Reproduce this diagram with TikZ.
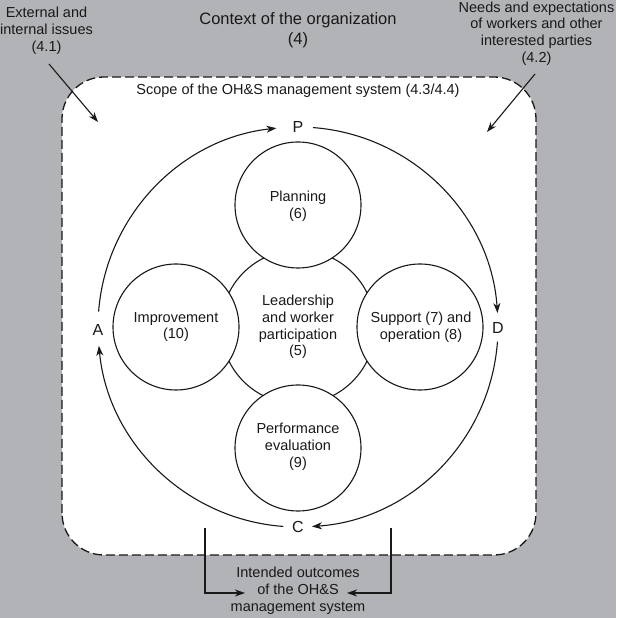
\documentclass[tikz,border=0pt]{standalone}
\usepackage{fontspec}
\setmainfont{Liberation Sans}
\usetikzlibrary{arrows.meta}
\definecolor{bggrey}{RGB}{178,179,182}
\definecolor{ink}{RGB}{25,25,25}
\tikzset{
  txt/.style={align=center, text=ink, font=\fontsize{14.5}{16.8}\selectfont, inner sep=0pt},
  ttl/.style={align=center, text=ink, font=\fontsize{16.5}{20}\selectfont, inner sep=0pt},
  letter/.style={text=ink, font=\fontsize{16}{18}\selectfont, inner sep=1pt},
  circ/.style={draw=ink, line width=1.1pt, fill=white, circle, inner sep=0pt},
  cyc/.style={draw=ink, line width=1.1pt},
  tip/.style={-{Stealth[length=10pt,width=7pt,inset=3pt]}},
  scope box/.style={draw=ink, line width=1.3pt, dash pattern=on 9pt off 4pt, fill=white, rounded corners=42pt},
}
\begin{document}
\begin{tikzpicture}[x=1pt,y=1pt]
\useasboundingbox (0,0) rectangle (616,618);
\fill[bggrey] (0,0) rectangle (616,618);
% scope box
\draw[scope box] (62,63) rectangle (536,541);
% texts outside
\node[ttl] (ctx) at (298,588) {Context of the organization\\(4)};
\node[txt] (ext) at (46.5,587) {External and\\internal issues\\(4.1)};
\node[txt] (needs) at (536.5,584.5) {Needs and expectations\\of workers and other\\interested parties\\(4.2)};
\node[txt] (scope) at (298,527) {Scope of the OH\&S management system (4.3/4.4)};
\node[txt] (out) at (298,27) {Intended outcomes\\of the OH\&S\\management system};
% input arrows
\coordinate (e1) at (49,554);
\coordinate (e2) at (98,496);
\coordinate (n1) at (535,544);
\coordinate (n2) at (487,486);
\draw[cyc,tip] (e1) -- (e2);
\draw[cyc,tip] (n1) -- (n2);
% cycle
\coordinate (o) at (298,291);
\node[letter] (P) at (298,491) {P};
\node[letter] (D) at (498,290) {D};
\node[letter] (C) at (298,91) {C};
\node[letter] (A) at (98,288) {A};
\draw[cyc,tip] ([shift={(85.7:200)}]o) arc[start angle=85.7, end angle=4.0, radius=200];
\draw[cyc,tip] ([shift={(-4.2:200)}]o) arc[start angle=-4.2, end angle=-86.0, radius=200];
\draw[cyc,tip] ([shift={(-94.2:200)}]o) arc[start angle=-94.2, end angle=-174.6, radius=200];
\draw[cyc,tip] ([shift={(175.6:200)}]o) arc[start angle=175.6, end angle=96.2, radius=200];
% circles
\node[circ, minimum size=154pt] (lead) at (298,291) {};
\node[circ, minimum size=126pt] (plan) at (298,413) {};
\node[circ, minimum size=126pt] (impr) at (176,291) {};
\node[circ, minimum size=126pt] (supp) at (420,291) {};
\node[circ, minimum size=126pt] (perf) at (298,170) {};
\node[txt] at (lead) {Leadership\\and worker\\participation\\(5)};
\node[txt] at (298,412) {Planning\\(6)};
\node[txt] at (176,291) {Improvement\\(10)};
\node[txt] at (421,291) {Support (7) and\\operation (8)};
\node[txt] at (298,171) {Performance\\evaluation\\(9)};
% outcome connectors
\coordinate (l1) at (205,90);
\coordinate (l2) at (205,25);
\coordinate (r1) at (391,90);
\coordinate (r2) at (391,25);
\draw[cyc,tip] (l1) -- (l2) -- (245,25);
\draw[cyc,tip] (r1) -- (r2) -- (347,25);
\end{tikzpicture}
\end{document}
